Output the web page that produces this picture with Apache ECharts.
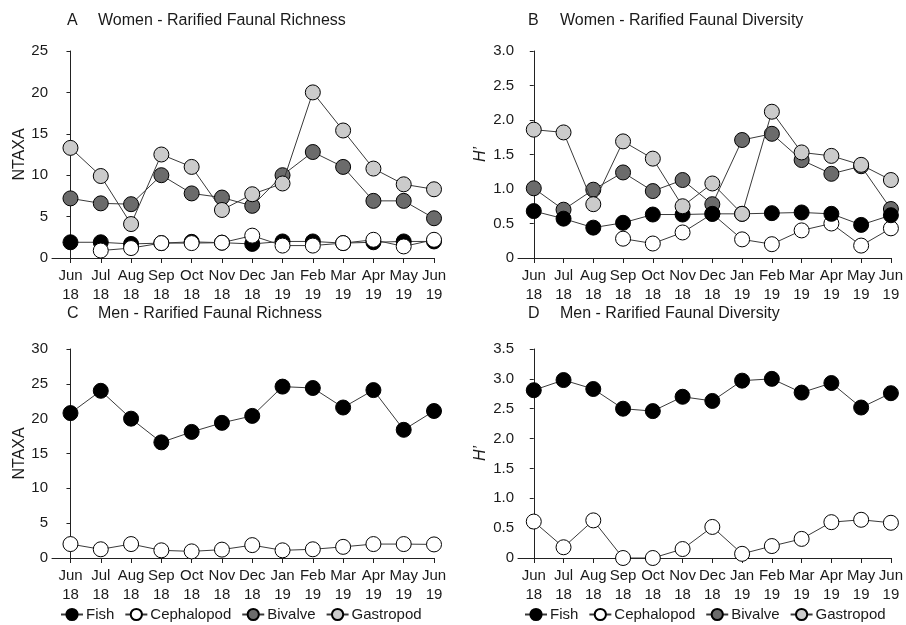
<!DOCTYPE html>
<html>
<head>
<meta charset="utf-8">
<script src="https://cdn.jsdelivr.net/npm/echarts@6/dist/echarts.min.js"></script>
<style>
html,body{margin:0;padding:0;background:#fff;}
#chart{width:906px;height:625px;}
</style>
</head>
<body>
<div id="chart"></div>
<script>
// ---- tick labels ----
var months = ['Jun\n18','Jul\n18','Aug\n18','Sep\n18','Oct\n18','Nov\n18','Dec\n18','Jan\n19','Feb\n19','Mar\n19','Apr\n19','May\n19','Jun\n19'];
var richTicks = [0,5,10,15,20,25];
var divTicksB = [0,0.5,1.0,1.5,2.0,2.5,3.0];
var richTicksC = [0,5,10,15,20,25,30];
var divTicksD = [0,0.5,1.0,1.5,2.0,2.5,3.0,3.5];
var seriesNames = ['Fish','Cephalopod','Bivalve','Gastropod'];

// ---- A: Women richness ----
var womenRichFish = [1.9,1.9,1.7,1.8,1.95,1.85,1.7,2.0,2.0,1.8,1.9,2.0,2.0];
var womenRichCeph = [null,0.9,1.2,1.8,1.8,1.85,2.7,1.5,1.5,1.8,2.2,1.4,2.2];
var womenRichBiv  = [7.2,6.6,6.5,10.0,7.8,7.3,6.3,10.0,12.8,11.0,6.9,6.9,4.8];
var womenRichGas  = [13.3,9.9,4.1,12.5,11.0,5.8,7.7,9.0,20.0,15.4,10.8,8.9,8.3];

// ---- B: Women diversity ----
var womenDivFish = [0.68,0.57,0.44,0.51,0.63,0.63,0.64,0.64,0.65,0.66,0.64,0.48,0.62];
var womenDivCeph = [null,null,null,0.28,0.21,0.37,0.64,0.27,0.20,0.40,0.50,0.18,0.43];
var womenDivBiv  = [1.01,0.70,0.99,1.24,0.97,1.13,0.78,1.71,1.80,1.42,1.22,1.33,0.71];
var womenDivGas  = [1.86,1.82,0.78,1.69,1.44,0.75,1.08,0.64,2.12,1.53,1.48,1.35,1.13];

// ---- C: Men richness ----
var menRichFish = [20.8,24.0,20.0,16.6,18.1,19.4,20.4,24.6,24.4,21.6,24.1,18.4,21.1];
var menRichCeph = [2.0,1.25,2.0,1.1,0.95,1.2,1.85,1.1,1.25,1.6,2.0,2.0,1.95];

// ---- D: Men diversity ----
var menDivFish = [2.81,2.98,2.83,2.50,2.46,2.70,2.63,2.97,3.00,2.77,2.93,2.52,2.76];
var menDivCeph = [0.61,0.18,0.63,0.0,0.0,0.15,0.52,0.07,0.20,0.32,0.60,0.64,0.59];

var FONT = '"Liberation Sans", Arial, sans-serif';
var TXT = '#1a1a1a';
var fills = {Fish:'#000000', Cephalopod:'#ffffff', Bivalve:'#6b6b6b', Gastropod:'#cbcbcb'};

var grids = [
  {left:52, top:51, width:382, height:207},
  {left:518, top:51, width:379, height:207},
  {left:52, top:349, width:382, height:209},
  {left:518, top:349, width:380, height:209}
];
var xMins = [-0.61,-0.53,-0.61,-0.53];
var idx = months.map(function(m,i){return i;});

function xAxis(g){
  return {
    type:'value', gridIndex:g, min:xMins[g], max:12,
    axisLine:{show:true,onZero:false,lineStyle:{color:'#222',width:1}},
    axisTick:{show:true,length:5,customValues:idx,lineStyle:{color:'#222'}},
    axisLabel:{customValues:idx, margin:8, color:TXT, fontFamily:FONT, fontSize:15, lineHeight:19,
      formatter:function(v){return months[Math.round(v)];}},
    splitLine:{show:false}
  };
}
function yAxis(g, ticks, name, italic, gap){
  var step = ticks[1]-ticks[0];
  return {
    type:'value', gridIndex:g, min:ticks[0], max:ticks[ticks.length-1], interval:step,
    name:name, nameLocation:'middle', nameGap:gap, nameRotate:90,
    nameTextStyle:{color:TXT, fontFamily:FONT, fontSize:16, fontStyle: italic?'italic':'normal'},
    axisLine:{show:true,lineStyle:{color:'#222',width:1}},
    axisTick:{show:true,length:4,lineStyle:{color:'#222'}},
    axisLabel:{margin:4, color:TXT, fontFamily:FONT, fontSize:15,
      formatter:function(v){ if(v===0) return '0'; return step<1 ? v.toFixed(1) : String(v);} },
    splitLine:{show:false}
  };
}
function ser(name, vals, g, z){
  return {
    type:'line', name:name, xAxisIndex:g, yAxisIndex:g, z:z,
    data: vals.map(function(v,i){return [i, v];}),
    symbol:'circle', symbolSize:15, showSymbol:true,
    lineStyle:{color:'#3a3a3a', width:1},
    itemStyle:{color:fills[name], borderColor:'#000', borderWidth:1},
    emphasis:{disabled:true}, animation:false
  };
}

var titleStyle = {color:TXT, fontFamily:FONT, fontSize:16, fontWeight:'normal'};
var titles = [
  {text:'A', left:67, top:13}, {text:'Women - Rarified Faunal Richness', left:98, top:13},
  {text:'B', left:528, top:13}, {text:'Women - Rarified Faunal Diversity', left:560, top:13},
  {text:'C', left:67, top:306}, {text:'Men - Rarified Faunal Richness', left:98, top:306},
  {text:'D', left:528, top:306}, {text:'Men - Rarified Faunal Diversity', left:560, top:306}
].map(function(t){ t.textStyle = titleStyle; t.padding = 0; return t; });

var legendBase = {
  data: seriesNames, top:607, itemWidth:22, itemHeight:14, itemGap:10, padding:0, width:400,
  textStyle:{color:TXT, fontFamily:FONT, fontSize:15, padding:[3,0,0,-2]}, selectedMode:false
};

var option = {
  animation:false,
  backgroundColor:'#fff',
  title: titles,
  grid: grids,
  xAxis: [xAxis(0), xAxis(1), xAxis(2), xAxis(3)],
  yAxis: [
    yAxis(0, richTicks, 'NTAXA', false, 24),
    yAxis(1, divTicksB, 'H\u2019', true, 29),
    yAxis(2, richTicksC, 'NTAXA', false, 24),
    yAxis(3, divTicksD, 'H\u2019', true, 29)
  ],
  legend: [
    Object.assign({left:60}, legendBase),
    Object.assign({left:524}, legendBase)
  ],
  series: [
    ser('Fish', womenRichFish, 0, 2),
    ser('Cephalopod', womenRichCeph, 0, 3),
    ser('Bivalve', womenRichBiv, 0, 4),
    ser('Gastropod', womenRichGas, 0, 5),
    ser('Cephalopod', womenDivCeph, 1, 2),
    ser('Bivalve', womenDivBiv, 1, 3),
    ser('Fish', womenDivFish, 1, 4),
    ser('Gastropod', womenDivGas, 1, 5),
    ser('Fish', menRichFish, 2, 2),
    ser('Cephalopod', menRichCeph, 2, 3),
    ser('Fish', menDivFish, 3, 2),
    ser('Cephalopod', menDivCeph, 3, 3)
  ]
};
var chart = echarts.init(document.getElementById('chart'), null, {renderer:'canvas'});
chart.setOption(option);
</script>
</body>
</html>
